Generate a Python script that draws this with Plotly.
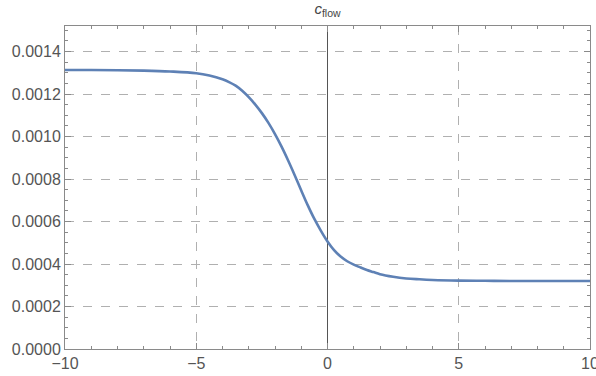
import plotly.graph_objects as go

# Values
x_vals = [-10, -9, -8, -7, -6, -5, -4.5, -4, -3.75, -3.5, -3.25, -3, -2.75, -2.5,
          -2.25, -2, -1.75, -1.5, -1.25, -1, -0.75, -0.5, -0.25, 0, 0.25, 0.5,
          0.75, 1, 1.25, 1.5, 1.75, 2, 2.5, 3, 3.5, 4, 5, 6, 7, 8, 9, 10]
c_flow = [0.001313, 0.001313, 0.001312, 0.001310, 0.001306, 0.001298, 0.001287,
          0.001269, 0.001256, 0.001239, 0.001215, 0.001185, 0.001150, 0.001110,
          0.001064, 0.001011, 0.000952, 0.000887, 0.000818, 0.000746, 0.000676,
          0.000612, 0.000556, 0.000506, 0.000465, 0.000435, 0.000413, 0.000397,
          0.000384, 0.000372, 0.000362, 0.000352, 0.000340, 0.000332, 0.000328,
          0.000325, 0.000322, 0.000321, 0.000320, 0.000320, 0.000320, 0.000320]

x_ticks = [-10, -5, 0, 5, 10]
y_ticks = [0, 0.0002, 0.0004, 0.0006, 0.0008, 0.0010, 0.0012, 0.0014]
y_tick_labels = ["0.0000", "0.0002", "0.0004", "0.0006", "0.0008", "0.0010", "0.0012", "0.0014"]

fig = go.Figure()
fig.add_trace(go.Scatter(
    x=x_vals, y=c_flow, mode="lines",
    line=dict(color="#5E81B5", width=2.6, shape="spline", smoothing=1.0),
    hoverinfo="skip", showlegend=False,
))

axis_color = "#8a8a8a"
font_color = "#555555"

fig.update_layout(
    width=596, height=376,
    margin=dict(l=65, r=6, t=26, b=27),
    paper_bgcolor="white", plot_bgcolor="white",
    font=dict(family="Liberation Sans, Arial, sans-serif", size=16, color=font_color),
    title=dict(text="<i>c</i><sub>flow</sub>", xref="paper", x=0.5, xanchor="center",
               y=0.99, yanchor="top", font=dict(size=15, color="#444444")),
    xaxis=dict(
        range=[-10, 10], tickvals=x_ticks, ticks="inside", ticklen=6, tickcolor=axis_color,
        showline=True, linecolor=axis_color, linewidth=1, mirror="ticks",
        showgrid=True, gridcolor="#b0b0b0", griddash="dash", gridwidth=1,
        zeroline=True, zerolinecolor="#555555", zerolinewidth=1,
        minor=dict(dtick=1, ticks="inside", ticklen=3, tickcolor=axis_color, showgrid=False),
        tickfont=dict(size=16, color=font_color), automargin=False,
        ticklabeloverflow="allow",
    ),
    yaxis=dict(
        range=[0, 0.00152], tickvals=y_ticks, ticktext=y_tick_labels, ticks="inside",
        ticklen=6, tickcolor=axis_color,
        showline=True, linecolor=axis_color, linewidth=1, mirror="ticks",
        showgrid=True, gridcolor="#b0b0b0", griddash="dash", gridwidth=1,
        zeroline=False,
        minor=dict(dtick=0.00005, tick0=0, ticks="inside", ticklen=3, tickcolor=axis_color, showgrid=False),
        tickfont=dict(size=16, color=font_color), automargin=False,
        ticklabeloverflow="allow",
    ),
)

fig.write_html("out.html", config={"displayModeBar": False},
               post_script="document.body.style.margin='0';")
